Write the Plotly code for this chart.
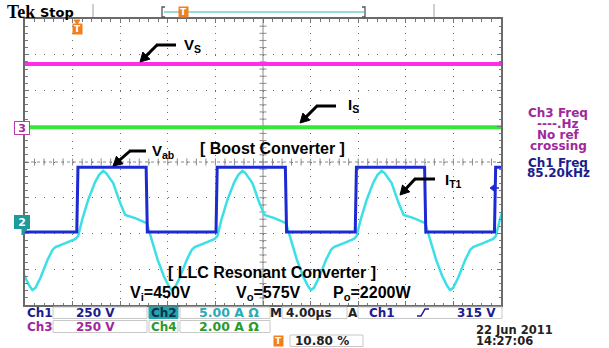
import math
import plotly.graph_objects as go

# ---------------- data (time in µs, amplitude in screen divisions) ----------------
vs_t = [0, 40]
vs_v = [2.74, 2.74]            # Ch3 (magenta)  V_S
is_t = [0, 40]
is_v = [0.97, 0.97]            # Ch4 (green)    I_S

vab_t = [0, 4.35, 4.45, 10.18, 10.28, 16.05, 16.15, 21.88, 21.98, 27.75, 27.85,
         33.58, 33.68, 39.45, 39.55, 40]
vab_v = [-1.96, -1.96, -0.15, -0.15, -1.96, -1.96, -0.15, -0.15, -1.96, -1.96, -0.15,
         -0.15, -1.96, -1.96, -0.15, -0.15]   # Ch1 (blue) V_ab

it1_t = [-1.47, -1.05, -0.55, -0.04, 0.38, 0.63, 0.88, 1.30, 1.89, 2.31, 2.56, 3.40, 4.24,
         4.47, 4.80, 5.31, 5.89, 6.23, 6.57, 6.82, 7.41, 8.00, 8.42, 9.26, 10.10,
         10.23, 10.65, 11.15, 11.66, 12.08, 12.33, 12.58, 13.00, 13.59, 14.01, 14.26, 15.10, 15.94,
         16.17, 16.50, 17.01, 17.59, 17.93, 18.27, 18.52, 19.11, 19.70, 20.12, 20.96, 21.80,
         21.93, 22.35, 22.85, 23.36, 23.78, 24.03, 24.28, 24.70, 25.29, 25.71, 25.96, 26.80, 27.64,
         27.87, 28.20, 28.71, 29.29, 29.63, 29.97, 30.22, 30.81, 31.40, 31.82, 32.66, 33.50,
         33.63, 34.05, 34.55, 35.06, 35.48, 35.73, 35.98, 36.40, 36.99, 37.41, 37.66, 38.50, 39.34,
         39.57, 39.90, 40.41]
it1_v = [-1.71, -2.18, -2.74, -3.19, -3.47, -3.58, -3.52, -3.24, -2.74, -2.46, -2.38, -2.27, -2.15,
         -2.07, -1.62, -1.06, -0.56, -0.36, -0.25, -0.31, -0.59, -1.15, -1.48, -1.57, -1.68,
         -1.71, -2.18, -2.74, -3.19, -3.47, -3.58, -3.52, -3.24, -2.74, -2.46, -2.38, -2.27, -2.15,
         -2.07, -1.62, -1.06, -0.56, -0.36, -0.25, -0.31, -0.59, -1.15, -1.48, -1.57, -1.68,
         -1.71, -2.18, -2.74, -3.19, -3.47, -3.58, -3.52, -3.24, -2.74, -2.46, -2.38, -2.27, -2.15,
         -2.07, -1.62, -1.06, -0.56, -0.36, -0.25, -0.31, -0.59, -1.15, -1.48, -1.57, -1.68,
         -1.71, -2.18, -2.74, -3.19, -3.47, -3.58, -3.52, -3.24, -2.74, -2.46, -2.38, -2.27, -2.15,
         -2.07, -1.62, -1.06]        # Ch2 (cyan) I_T1

freq_lines = ["Ch3 Freq", "----.Hz", "No ref", "crossing"]
freq_lines2 = ["Ch1 Freq", "85.20kHz"]

# ---------------- helpers for positions ----------------
def xd(px): return (px - 25) / 476 * 40
def yd(py): return (162 - py) / 35.75
def xp(px): return (px - 25) / 476
def yp(py): return (305 - py) / 286

GR = '#8c8c8c'
fig = go.Figure()

# center cross ticks
fig.add_trace(go.Scatter(x=[0.8 * k for k in range(1, 50)], y=[0] * 49, mode='markers',
                         marker=dict(symbol='line-ns', size=5, line=dict(width=1, color=GR)),
                         hoverinfo='skip', showlegend=False))
fig.add_trace(go.Scatter(x=[20] * 39, y=[0.2 * k for k in range(-19, 20)], mode='markers',
                         marker=dict(symbol='line-ew', size=5, line=dict(width=1, color=GR)),
                         hoverinfo='skip', showlegend=False))

fig.add_trace(go.Scatter(x=vs_t, y=vs_v, mode='lines', line=dict(color='#ff2fe8', width=4),
                         showlegend=False))
fig.add_trace(go.Scatter(x=is_t, y=is_v, mode='lines', line=dict(color='#36e836', width=4),
                         showlegend=False))
fig.add_trace(go.Scatter(x=it1_t, y=it1_v, mode='lines', line=dict(color='#3ddfe6', width=2.5),
                         showlegend=False))
fig.add_trace(go.Scatter(x=vab_t, y=vab_v, mode='lines', line=dict(color='#1c2ad2', width=3),
                         showlegend=False))

shapes = []
# center lines
shapes.append(dict(type='line', xref='x', yref='y', x0=0, x1=40, y0=0, y1=0,
                   line=dict(color=GR, width=1, dash='3px,3px'), layer='below'))
shapes.append(dict(type='line', xref='x', yref='y', x0=20, x1=20, y0=-4, y1=4,
                   line=dict(color=GR, width=1), layer='below'))

# bent arrows: horizontal part, diagonal part, filled head
arrows = [((157, 45), (140, 62), 176), ((317, 106), (300, 123), 336),
          ((130, 151), (113, 166), 146), ((415, 179), (400, 195), 435)]
for (kx, ky), (tx, ty), ex in arrows:
    shapes.append(dict(type='line', xref='paper', yref='paper', x0=xp(kx - 1), x1=xp(ex), y0=yp(ky), y1=yp(ky),
                       line=dict(color='black', width=3)))
    dx, dy = tx - kx, ty - ky
    n = math.hypot(dx, dy); ux, uy = dx / n, dy / n
    bx, by = tx - ux * 9, ty - uy * 9
    shapes.append(dict(type='line', xref='paper', yref='paper', x0=xp(kx), x1=xp(bx + ux), y0=yp(ky), y1=yp(by + uy),
                       line=dict(color='black', width=3)))
    p1 = (bx - uy * 5, by + ux * 5); p2 = (bx + uy * 5, by - ux * 5)
    shapes.append(dict(type='path', xref='paper', yref='paper',
                       path=f"M {xp(tx)},{yp(ty)} L {xp(p1[0])},{yp(p1[1])} L {xp(p2[0])},{yp(p2[1])} Z",
                       fillcolor='black', line=dict(color='black', width=1)))

# trigger level marker (right)
shapes.append(dict(type='path', xref='x', yref='y',
                   path=f"M {xd(490)},{yd(188)} L {xd(494)},{yd(185)} L {xd(494)},{yd(191)} Z",
                   fillcolor='#1c2ad2', line=dict(color='#1c2ad2', width=1)))
shapes.append(dict(type='line', xref='x', yref='y', x0=xd(493), x1=xd(499), y0=yd(188), y1=yd(188),
                   line=dict(color='#1c2ad2', width=1.5)))

# top bar
for gx in (93, 434):
    shapes.append(dict(type='line', xref='paper', yref='paper', x0=xp(gx), x1=xp(gx), y0=yp(4), y1=yp(17),
                       line=dict(color='#a0a0a0', width=1)))
shapes.append(dict(type='line', xref='paper', yref='paper', x0=xp(164), x1=xp(364), y0=yp(12), y1=yp(12),
                   line=dict(color='#70cfcf', width=1.5)))
shapes.append(dict(type='path', xref='paper', yref='paper',
                   path=f"M {xp(165)},{yp(7)} L {xp(162)},{yp(7)} L {xp(162)},{yp(17)} L {xp(165)},{yp(17)}",
                   line=dict(color='#555', width=1.3)))
shapes.append(dict(type='path', xref='paper', yref='paper',
                   path=f"M {xp(362)},{yp(7)} L {xp(365)},{yp(7)} L {xp(365)},{yp(17)} L {xp(362)},{yp(17)}",
                   line=dict(color='#555', width=1.3)))

# channel ground markers
shapes.append(dict(type='path', xref='paper', yref='paper',
                   path=f"M {xp(22)},{yp(122)} L {xp(27)},{yp(128)} L {xp(22)},{yp(134)} Z",
                   fillcolor='white', line=dict(color='#c040b0', width=1)))
shapes.append(dict(type='path', xref='paper', yref='paper',
                   path=f"M {xp(22)},{yp(223)} L {xp(27)},{yp(229)} L {xp(22)},{yp(235)} Z",
                   fillcolor='#1e9a9a', line=dict(color='#1e9a9a', width=1)))

# orange trigger position triangle
shapes.append(dict(type='path', xref='paper', yref='paper',
                   path=f"M {xp(74)},{yp(20)} L {xp(80)},{yp(20)} L {xp(77)},{yp(24)} Z",
                   fillcolor='#f07f1f', line=dict(color='#f07f1f', width=1)))

# status boxes
def box(x0, x1, y0, y1, fill='white', line='#c8c8c8'):
    shapes.append(dict(type='rect', xref='paper', yref='paper', x0=xp(x0), x1=xp(x1), y0=yp(y1), y1=yp(y0),
                       fillcolor=fill, line=dict(color=line, width=1)))
box(53, 147, 307, 318.5); box(149, 178, 307, 318.5, fill='#22a4a8', line='#22a4a8')
box(180, 270, 307, 318.5); box(282, 347, 307, 318.5); box(358, 502, 307, 318.5)
box(53, 147, 320.5, 332.5); box(149, 178, 320.5, 332.5); box(180, 270, 320.5, 332.5)
box(290, 363, 335, 346.5)
# rising edge glyph
shapes.append(dict(type='path', xref='paper', yref='paper',
                   path=f"M {xp(417)},{yp(316)} L {xp(421)},{yp(316)} L {xp(425)},{yp(309)} L {xp(429)},{yp(309)}",
                   line=dict(color='#1c1c8c', width=1.5)))

def txt(x, y, s, size=12, color='black', family='DejaVu Sans', xa='left', **kw):
    fig.add_annotation(x=xp(x), y=yp(y), xref='paper', yref='paper', text=s, showarrow=False,
                       xanchor=xa, yanchor='middle', font=dict(size=size, color=color, family=family), **kw)

LS = 'Liberation Sans'
txt(182, 45, '<b>V<sub>S</sub></b>', 15, family=LS)
txt(346, 105, '<b>I<sub>S</sub></b>', 15, family=LS)
txt(150, 151, '<b>V<sub>ab</sub></b>', 15, family=LS)
txt(443, 180, '<b>I<sub>T1</sub></b>', 15, family=LS)
txt(272, 148, '<b>[ Boost Converter ]</b>', 16, family=LS, xa='center')
txt(272, 272, '<b>[ LLC Resonant Converter ]</b>', 16, family=LS, xa='center')
txt(128, 293, '<b>V<sub>i</sub>=450V</b>', 16, family=LS)
txt(234, 293, '<b>V<sub>o</sub>=575V</b>', 16, family=LS)
txt(331, 293, '<b>P<sub>o</sub>=2200W</b>', 16, family=LS)

# header
txt(5, 12, '<b>Tek</b>', 18, family='Liberation Serif')
txt(38, 12, '<b>Stop</b>', 13)

# orange T markers
for (tx, ty) in [(77, 29), (183, 12), (278, 340.5)]:
    fig.add_annotation(x=xp(tx), y=yp(ty), xref='paper', yref='paper', text='<b>T</b>', showarrow=False,
                       xanchor='center', yanchor='middle', font=dict(size=9, color='white', family='DejaVu Sans'),
                       bgcolor='#f07f1f', borderpad=0, width=9, height=10)

# channel ground labels
fig.add_annotation(x=xp(14), y=yp(128), xref='paper', yref='paper', text='<b>3</b>', showarrow=False,
                   font=dict(size=11, color='#a0289c', family='DejaVu Sans'), bgcolor='white',
                   bordercolor='#c040b0', borderwidth=1, borderpad=0, width=14, height=12)
fig.add_annotation(x=xp(14), y=yp(229), xref='paper', yref='paper', text='<b>2</b>', showarrow=False,
                   font=dict(size=11, color='white', family='DejaVu Sans'), bgcolor='#1e9a9a',
                   bordercolor='#1e9a9a', borderwidth=1, borderpad=0, width=14, height=12)

# right side readouts
PUR = '#a0289c'; NAV = '#1c1c8c'
for s, yy in zip(freq_lines, [113, 124, 135, 146]):
    txt(558, yy, f'<b>{s}</b>', 12, PUR, xa='center')
for s, yy in zip(freq_lines2, [162.5, 173]):
    txt(558, yy, f'<b>{s}</b>', 12, NAV, xa='center')

# status bar
r1, r2 = 312.7, 326.7
txt(25, r1, '<b>Ch1</b>', 12, NAV)
txt(95, r1, '<b>250 V</b>', 12, NAV, xa='center')
txt(163.5, r1, '<b>Ch2</b>', 12, '#0c3050', xa='center')
txt(229, r1, '<b>5.00 A Ω</b>', 12.5, '#2aaab4', xa='center')
txt(276, r1, '<b>M</b>', 12, '#222', xa='center')
txt(284, r1, '<b>4.00µs</b>', 12, '#222')
txt(353, r1, '<b>A</b>', 12, '#222', xa='center')
txt(367, r1, '<b>Ch1</b>', 12, NAV)
txt(498, r1, '<b>315 V</b>', 12, NAV, xa='right')
txt(25, r2, '<b>Ch3</b>', 12, PUR)
txt(95, r2, '<b>250 V</b>', 12, PUR, xa='center')
txt(163.5, r2, '<b>Ch4</b>', 12, '#2a9a2a', xa='center')
txt(229, r2, '<b>2.00 A Ω</b>', 12.5, '#2a9a2a', xa='center')
txt(293, 340.8, '<b>10.80 %</b>', 12, '#222')
txt(474, 330, '<b>22 Jun 2011</b>', 11.5, '#222')
txt(474, 341, '<b>14:27:06</b>', 11.5, '#222')

axis_common = dict(showticklabels=False, ticks='inside', tickcolor='#777', ticklen=4,
                   showline=True, linecolor='#6a6a6a', linewidth=2, mirror='ticks',
                   zeroline=False, showgrid=True, gridcolor='#6e6e6e', gridwidth=1, fixedrange=True)
fig.update_layout(
    width=609, height=348, margin=dict(l=25, r=108, t=19, b=43),
    paper_bgcolor='white', plot_bgcolor='white', showlegend=False,
    xaxis=dict(range=[0, 40], tick0=0, dtick=4, griddash='1px,6.15px',
               minor=dict(dtick=0.8, ticks='inside', ticklen=2.5, tickcolor='#777', showgrid=False),
               **axis_common),
    yaxis=dict(range=[-4, 4], tick0=0, dtick=1, griddash='1px,8.52px',
               minor=dict(dtick=0.2, ticks='inside', ticklen=2.5, tickcolor='#777', showgrid=False),
               **axis_common),
    shapes=shapes,
)
fig.write_html("out.html")
